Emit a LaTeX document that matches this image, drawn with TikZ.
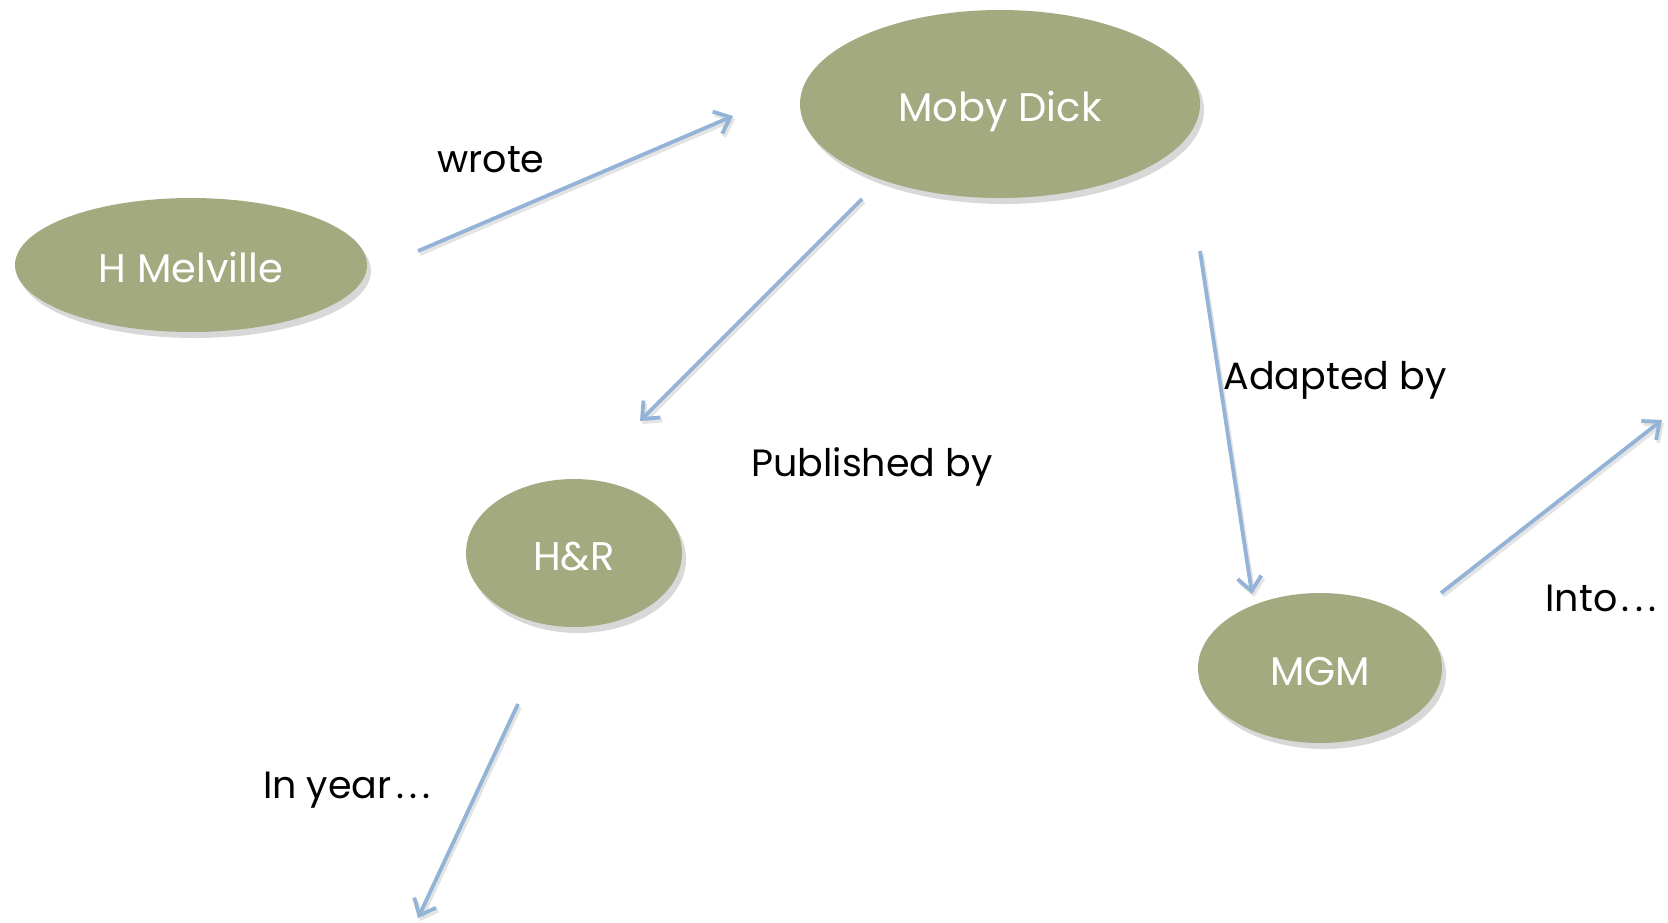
\documentclass[tikz,border=0pt]{standalone}
\usepackage{fontspec}
\setmainfont{Poppins}
\usetikzlibrary{arrows.meta,shadows,shapes.geometric}
\definecolor{nodeolive}{RGB}{163,170,128}
\definecolor{arrowblue}{RGB}{147,179,215}
\newcommand{\mydots}{\kern0.12em.\kern0.14em.\kern0.14em.}
\tikzset{
  ent/.style={ellipse, fill=nodeolive, text=white, inner sep=0pt,
    font=\fontsize{20}{23}\selectfont, text height=17.2pt, text depth=0pt,
    drop shadow={opacity=0.3, shadow xshift=2pt, shadow yshift=-3pt}},
  rel/.style={draw=arrowblue, line width=1.9pt,
    -{Straight Barb[length=7pt, width=12pt, line width=1.9pt]},
    preaction={draw=black!30, opacity=0.35, line width=1.9pt, transform canvas={xshift=1pt, yshift=-1.5pt}}},
  lbl/.style={text=black, inner sep=0pt, font=\fontsize{19}{22}\selectfont,
    text height=15pt, text depth=0pt}
}
\begin{document}
\begin{tikzpicture}[x=0.5pt, y=-0.5pt]
\useasboundingbox (0,0) rectangle (1668,922);
\fill[white] (0,0) rectangle (1668,922);

\node[ent, minimum width=176pt, minimum height=67pt] (mel) at (191,265) {H Melville};
\node[ent, minimum width=200pt, minimum height=94pt] (moby) at (1000,104) {Moby Dick};
\node[ent, minimum width=108pt, minimum height=74pt] (hr) at (574,553) {H\&R};
\node[ent, minimum width=122pt, minimum height=75pt] (mgm) at (1320,668) {MGM};

\coordinate (w1) at (418,251);
\coordinate (w2) at (733,116);
\coordinate (p1) at (862,199);
\coordinate (p2) at (640,421);
\coordinate (a1) at (1200,251);
\coordinate (a2) at (1252,594);
\coordinate (i1) at (1441,593);
\coordinate (i2) at (1662,420);
\coordinate (y1) at (518,704);
\coordinate (y2) at (418,918);

\draw[rel] (w1) -- (w2);
\draw[rel] (p1) -- (p2);
\draw[rel] (a1) -- (a2);
\draw[rel] (i1) -- (i2);
\draw[rel] (y1) -- (y2);

\node[lbl] (lw) at (491,157) {wrote};
\node[lbl] (lp) at (872,461) {Published by};
\node[lbl] (la) at (1335,374) {Adapted by};
\node[lbl] (li) at (1601,596) {Into\mydots};
\node[lbl] (ly) at (347,783) {In year\mydots};
\end{tikzpicture}
\end{document}
